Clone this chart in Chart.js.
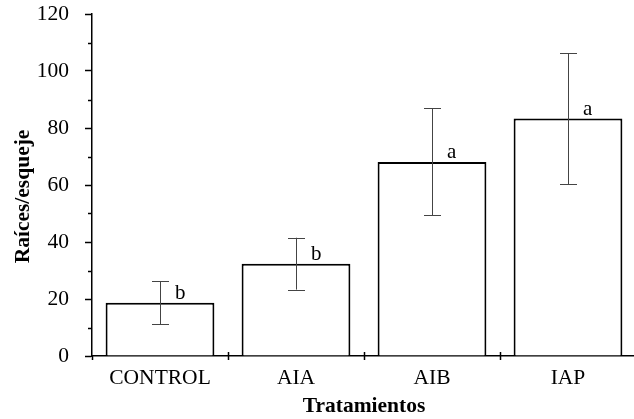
<!DOCTYPE html>
<html>
<head>
<meta charset="utf-8">
<script src="https://cdn.jsdelivr.net/npm/chart.js@4"></script>
<style>
  body { margin: 0; overflow: hidden; background: #fff; }
</style>
</head>
<body>
<canvas id="myChart" width="636" height="419"></canvas>
<script>
const categories = ['CONTROL', 'AIA', 'AIB', 'IAP'];
const means = [18.7, 32.4, 68.1, 83.3];
const errors = [7.5, 9.1, 18.8, 23.0];
const letters = ['b', 'b', 'a', 'a'];
const yTitle = 'Raíces/esqueje';

const serif = "'Liberation Serif', 'Times New Roman', serif";

// error bars, significance letters, minor ticks, category separators, y title
const extras = {
  id: 'extras',
  afterDatasetsDraw(chart) {
    const c = chart.ctx;
    const x = chart.scales.x;
    const y = chart.scales.y;
    const meta = chart.getDatasetMeta(0);
    c.save();

    // error bars
    c.strokeStyle = '#444';
    c.lineWidth = 1;
    meta.data.forEach((bar, i) => {
      const cx = Math.round(bar.x) + 0.5;
      const top = y.getPixelForValue(means[i] + errors[i]);
      const bot = y.getPixelForValue(means[i] - errors[i]);
      c.beginPath();
      c.moveTo(cx, top); c.lineTo(cx, bot);
      c.moveTo(cx - 8.5, Math.round(top) + 0.5); c.lineTo(cx + 8.5, Math.round(top) + 0.5);
      c.moveTo(cx - 8.5, Math.round(bot) + 0.5); c.lineTo(cx + 8.5, Math.round(bot) + 0.5);
      c.stroke();
    });

    // letters
    c.fillStyle = '#000';
    c.font = '21px ' + serif;
    c.textAlign = 'left';
    c.textBaseline = 'alphabetic';
    meta.data.forEach((bar, i) => {
      c.fillText(letters[i], bar.x + 15, y.getPixelForValue(means[i]) - 4);
    });

    // minor y ticks
    c.strokeStyle = '#000';
    c.lineWidth = 1.5;
    for (let v = 10; v < 120; v += 20) {
      const py = Math.round(y.getPixelForValue(v)) + 0.5;
      c.beginPath();
      c.moveTo(x.left - 4, py); c.lineTo(x.left, py);
      c.stroke();
    }

    // x ticks on category boundaries
    for (let i = 0; i <= categories.length; i++) {
      const px = Math.round(x.left + (x.right - x.left) * i / categories.length) + 0.5;
      c.beginPath();
      c.moveTo(px, y.bottom - (i === 0 ? 0 : 4)); c.lineTo(px, y.bottom + 4);
      c.stroke();
    }

    // y axis title
    c.translate(29, 196.5);
    c.rotate(-Math.PI / 2);
    c.font = 'bold 21.5px ' + serif;
    c.textAlign = 'center';
    c.textBaseline = 'alphabetic';
    c.fillText(yTitle, 0, 0);
    c.restore();
  }
};

const ctx = document.getElementById('myChart').getContext('2d');
const myChart = new Chart(ctx, {
  type: 'bar',
  data: {
    labels: categories,
    datasets: [{
      data: means,
      backgroundColor: '#fff',
      borderColor: '#000',
      borderWidth: 2,
      borderSkipped: 'start',
      categoryPercentage: 1,
      barPercentage: 0.8
    }]
  },
  options: {
    responsive: false,
    animation: false,
    layout: { padding: { top: 14, left: 0, right: 0, bottom: 0 } },
    plugins: {
      legend: { display: false },
      tooltip: { enabled: false }
    },
    scales: {
      x: {
        offset: true,
        grid: { display: false, drawTicks: false },
        border: { display: true, color: '#000', width: 1.5 },
        ticks: { color: '#000', font: { family: serif, size: 21.5 }, padding: 9 },
        title: {
          display: true,
          text: 'Tratamientos',
          color: '#000',
          font: { family: serif, size: 21.5, weight: 'bold' },
          padding: { top: 0, bottom: 0 }
        },
        afterFit(scale) { scale.height = 63; }
      },
      y: {
        min: 0,
        max: 120,
        grid: {
          drawOnChartArea: false,
          drawTicks: true,
          tickLength: 7,
          tickWidth: 1.5,
          tickColor: (c) => (c.tick && c.tick.value % 20 === 0) ? '#000' : 'rgba(0,0,0,0)'
        },
        border: { display: true, color: '#000', width: 1.5 },
        ticks: {
          stepSize: 10,
          autoSkip: false,
          color: '#000',
          padding: 16,
          font: { family: serif, size: 21.5 },
          callback: (v) => v % 20 === 0 ? v : ''
        },
        afterFit(scale) {
          scale.width = 92;
          scale.paddingTop = 0;
          scale.paddingBottom = 0;
        }
      }
    }
  },
  plugins: [extras]
});
</script>
</body>
</html>
